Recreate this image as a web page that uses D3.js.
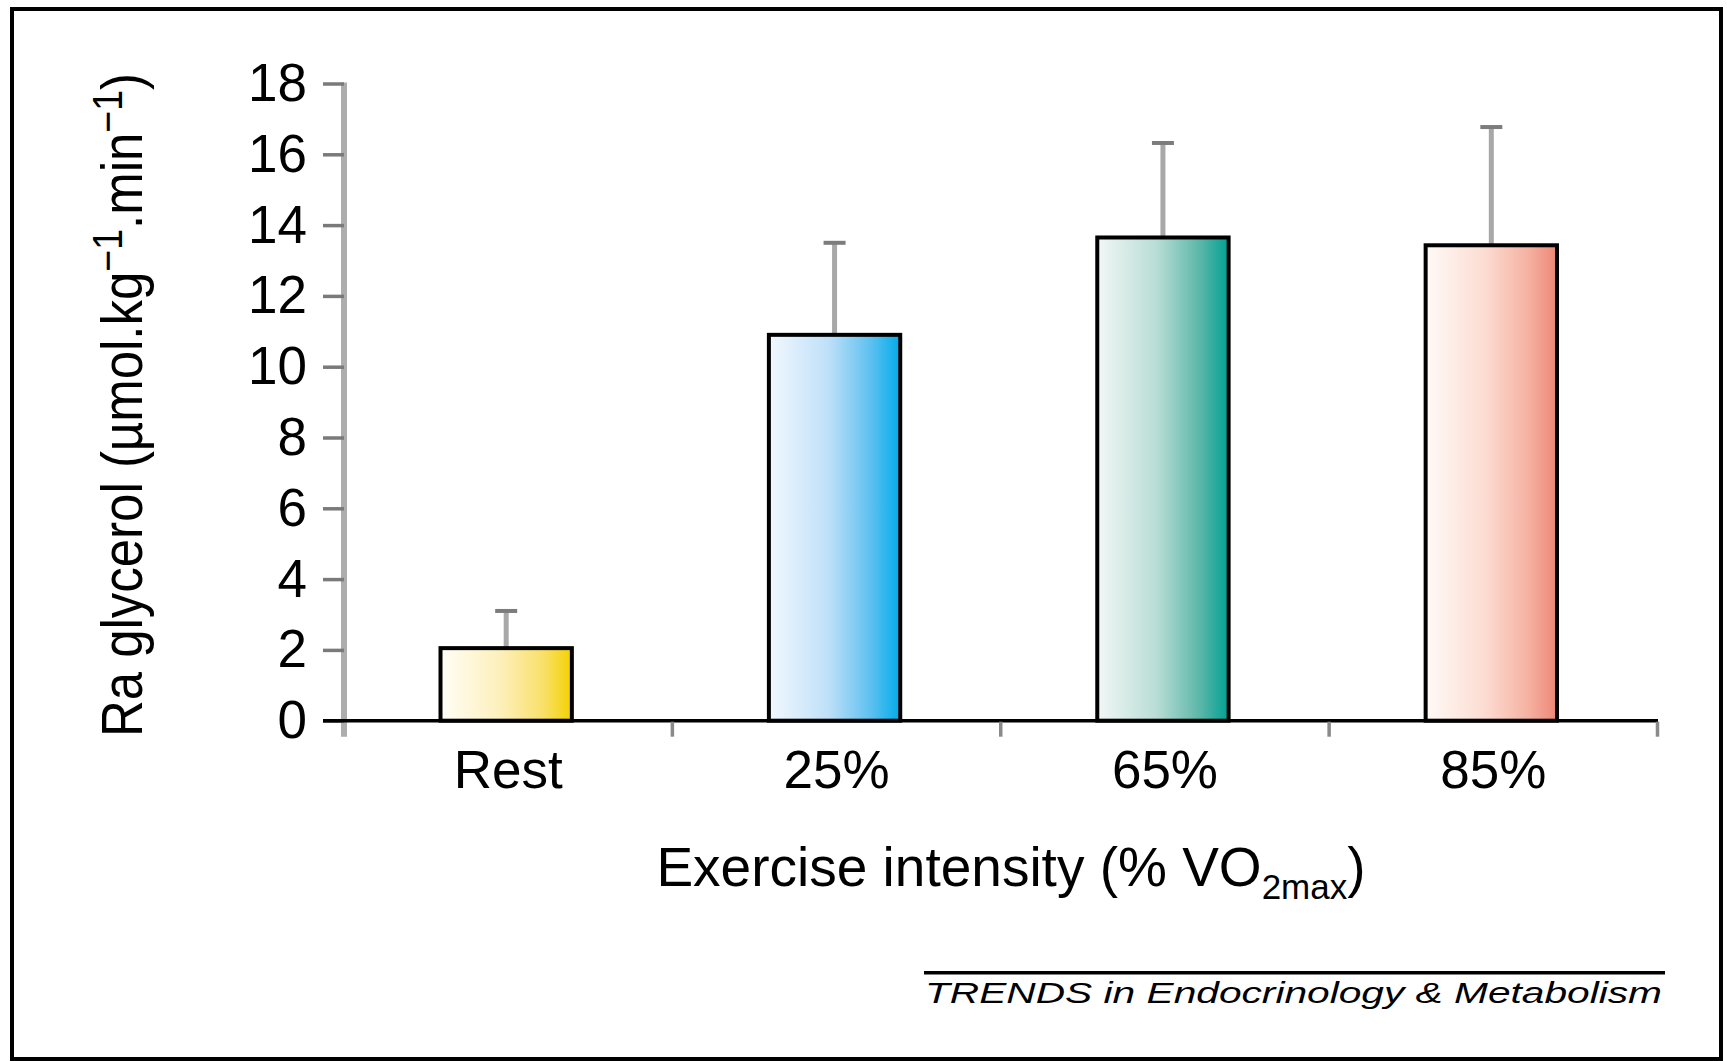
<!DOCTYPE html>
<html>
<head>
<meta charset="utf-8">
<script src="https://cdn.jsdelivr.net/npm/d3@7"></script>
<style>
	body { margin: 0; background: #fff; }
	svg { display: block; font-family: 'Liberation Sans', Arial, sans-serif; }
</style>
</head>
<body>
<div class="chart"></div>
<script>
// data
const categories = ['Rest', '25%', '65%', '85%'];
const values = [2.05, 10.9, 13.65, 13.43];
const errors = [1.05, 2.6, 2.67, 3.34];
const yTicks = [0, 2, 4, 6, 8, 10, 12, 14, 16, 18];
const gradients = [
	['#fffef8', '#fdf0bc', '#f9e06a', '#f3d200'],
	['#f2f8fe', '#bfe0f8', '#5cc0f0', '#00acea'],
	['#f2f7f6', '#b9ddd6', '#5cb7a9', '#00a094'],
	['#fffaf7', '#fcdcd2', '#f5b2a2', '#ee8676']
];

let width = 1727, height = 1061;
let svg = d3.select('.chart').append('svg')
	.attr('width', width)
	.attr('height', height);

// outer frame
svg.append('rect')
	.attr('x', 12).attr('y', 9)
	.attr('width', 1709).attr('height', 1050)
	.attr('fill', 'none')
	.attr('stroke', '#000')
	.attr('stroke-width', 4);

let xScale = d3.scaleBand().domain(categories).range([344, 1657.5]).padding(0),
	yScale = d3.scaleLinear().domain([0, 18]).range([720.7, 83.5]);
let bw = xScale.bandwidth();

let defs = svg.append('defs');
gradients.forEach(function (stops, i) {
	let lg = defs.append('linearGradient').attr('id', 'grad' + i)
		.attr('x1', '0%').attr('x2', '100%').attr('y1', '0%').attr('y2', '0%');
	let offs = [0, 0.45, 0.78, 1];
	stops.forEach(function (c, j) {
		lg.append('stop').attr('offset', offs[j]).attr('stop-color', c);
	});
});

// y axis (grey line, reaches a bit under the x axis)
svg.append('line')
	.attr('x1', 344).attr('x2', 344)
	.attr('y1', yScale(18) - 1).attr('y2', yScale(0) + 16)
	.attr('stroke', '#adadad')
	.attr('stroke-width', 6);

let yAxis = svg.append('g')
	.attr('transform', 'translate(344,0)')
	.call(d3.axisLeft(yScale).tickValues(yTicks).tickSize(21).tickPadding(16));
yAxis.select('.domain').remove();
yAxis.selectAll('.tick line')
	.attr('stroke', '#7a7a7a')
	.attr('stroke-width', 3.5);
yAxis.selectAll('.tick text')
	.attr('fill', '#000')
	.attr('font-size', 53)
	.attr('font-family', "'Liberation Sans', Arial, sans-serif");

// error bars
let cx = d => xScale(d) + bw / 2 - 2;
let bars = svg.append('g');
categories.forEach(function (c, i) {
	bars.append('line')
		.attr('x1', cx(c)).attr('x2', cx(c))
		.attr('y1', yScale(values[i])).attr('y2', yScale(values[i] + errors[i]))
		.attr('stroke', '#a8a8a8')
		.attr('stroke-width', 5);
	bars.append('line')
		.attr('x1', cx(c) - 11).attr('x2', cx(c) + 11)
		.attr('y1', yScale(values[i] + errors[i])).attr('y2', yScale(values[i] + errors[i]))
		.attr('stroke', '#7c7c7c')
		.attr('stroke-width', 4);
});

// bars
bars.selectAll('rect.bar')
	.data(categories)
	.enter().append('rect')
	.attr('class', 'bar')
	.attr('x', d => cx(d) - bw * 0.2)
	.attr('width', bw * 0.4)
	.attr('y', (d, i) => yScale(values[i]))
	.attr('height', (d, i) => yScale(0) - yScale(values[i]))
	.attr('fill', (d, i) => 'url(#grad' + i + ')')
	.attr('stroke', '#000')
	.attr('stroke-width', 4);

// x axis
svg.append('line')
	.attr('x1', 323).attr('x2', 1658)
	.attr('y1', yScale(0)).attr('y2', yScale(0))
	.attr('stroke', '#000')
	.attr('stroke-width', 3.5);

svg.append('g').selectAll('line')
	.data(categories)
	.enter().append('line')
	.attr('x1', d => xScale(d) + bw).attr('x2', d => xScale(d) + bw)
	.attr('y1', yScale(0) + 1).attr('y2', yScale(0) + 16)
	.attr('stroke', '#8a8a8a')
	.attr('stroke-width', 3.5);

let xAxis = svg.append('g')
	.attr('transform', 'translate(0,' + yScale(0) + ')')
	.call(d3.axisBottom(xScale).tickSize(0));
xAxis.select('.domain').remove();
xAxis.selectAll('.tick text')
	.attr('dy', null)
	.attr('y', 67.6)
	.attr('fill', '#000')
	.attr('font-size', 53)
	.attr('font-family', "'Liberation Sans', Arial, sans-serif");

// axis titles
let xt = svg.append('text')
	.attr('x', 1011).attr('y', 885.7)
	.attr('text-anchor', 'middle')
	.attr('font-size', 55);
xt.append('tspan').text('Exercise intensity (% VO');
xt.append('tspan').attr('font-size', 35).attr('dy', 13).text('2max');
xt.append('tspan').attr('dy', -13).text(')');

let yt = svg.append('text')
	.attr('transform', 'translate(141.7,405) rotate(-90) scale(0.894,1)')
	.attr('text-anchor', 'middle')
	.attr('font-size', 57);
yt.append('tspan').text('Ra glycerol (\u00b5mol.kg');
yt.append('tspan').attr('font-size', 42).attr('dy', -20).text('\u22121');
yt.append('tspan').attr('dy', 20).text('.min');
yt.append('tspan').attr('font-size', 42).attr('dy', -20).text('\u22121');
yt.append('tspan').attr('dy', 20).text(')');

// journal footer
svg.append('line')
	.attr('x1', 924).attr('x2', 1665)
	.attr('y1', 972.7).attr('y2', 972.7)
	.attr('stroke', '#000')
	.attr('stroke-width', 3.5);
svg.append('text')
	.attr('x', 925).attr('y', 1003)
	.attr('font-size', 30)
	.attr('font-style', 'italic')
	.attr('textLength', 737)
	.attr('lengthAdjust', 'spacingAndGlyphs')
	.text('TRENDS in Endocrinology & Metabolism');
</script>
</body>
</html>
